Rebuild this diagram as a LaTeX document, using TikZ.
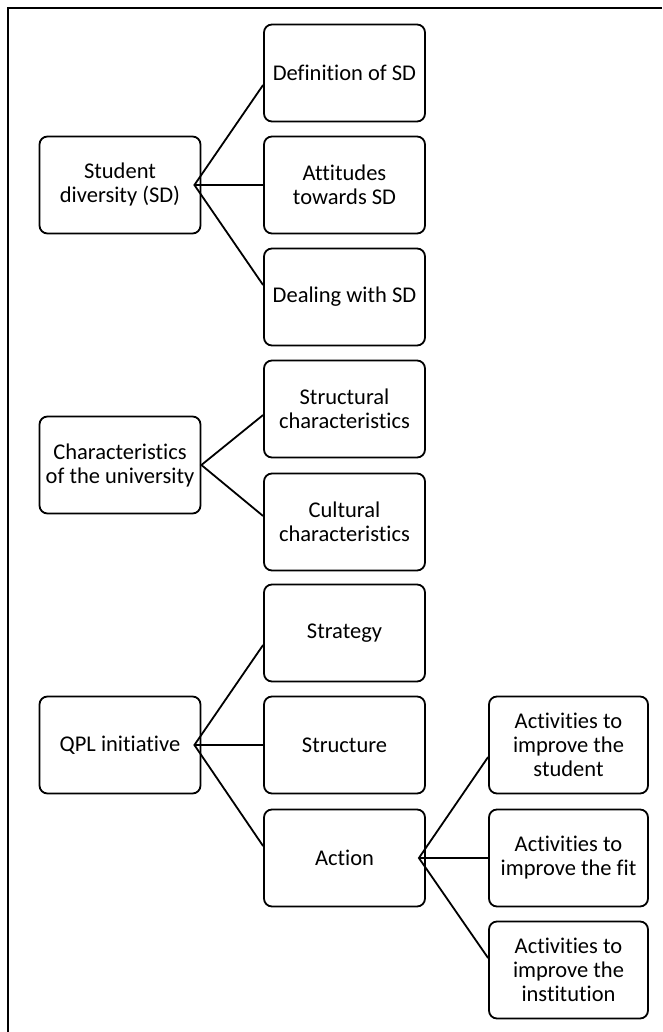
\documentclass[tikz,border=0pt]{standalone}
\usepackage{fontspec}
\setmainfont{Carlito}[Ligatures=NoCommon]
\usetikzlibrary{calc}
\begin{document}
\begin{tikzpicture}[x=1pt,y=-1pt,
  box/.style={draw, rounded corners=8pt, line width=1.8pt, minimum width=161pt,
    minimum height=97pt, align=center, inner sep=2pt,
    font=\fontsize{22.5}{24}\selectfont},
  link/.style={line width=1.8pt, line join=miter},
  frame/.style={line width=2pt}]
\useasboundingbox (0,0) rectangle (662,1032);
% outer frame
\draw[frame] (8,1032) -- (8,8) -- (662,8);

% group 1: student diversity
\node[box] (sd)   at (120,185)   {Student\\diversity (SD)};
\node[box] (def)  at (344.5,73)  {Definition of SD};
\node[box] (att)  at (344.5,185) {Attitudes\\towards SD};
\node[box] (deal) at (344.5,297) {Dealing with SD};

% group 2: characteristics of the university
\node[box] (char)   at (120,465)   {Characteristics\\of the university};
\node[box] (struct) at (344.5,409) {Structural\\characteristics};
\node[box] (cult)   at (344.5,522) {Cultural\\characteristics};

% group 3: QPL initiative
\node[box] (qpl)   at (120,745)   {QPL initiative};
\node[box] (strat) at (344.5,633) {Strategy};
\node[box] (stru)  at (344.5,745) {Structure};
\node[box] (act)   at (344.5,858) {Action};

% activities under action
\node[box, minimum width=159pt] (stud) at (568.5,745) {Activities to\\improve the\\student};
\node[box, minimum width=159pt] (fit)  at (568.5,858) {Activities to\\improve the fit};
\node[box, minimum width=159pt] (inst) at (568.5,970) {Activities to\\improve the\\institution};

% connectors
\coordinate (j1) at ($(sd.east)+(-7,0)$);
\draw[link] ($(def.west)+(0,12)$) -- (j1) -- ($(deal.west)+(0,-12)$);
\draw[link] (j1) -- (att.west);

\coordinate (j2) at (char.east);
\draw[link] ($(struct.west)+(0,6)$) -- (j2) -- ($(cult.west)+(0,-6)$);

\coordinate (j3) at ($(qpl.east)+(-7,0)$);
\draw[link] ($(strat.west)+(0,12)$) -- (j3) -- ($(act.west)+(0,-12)$);
\draw[link] (j3) -- (stru.west);

\coordinate (j4) at ($(act.east)+(-7,0)$);
\draw[link] ($(stud.west)+(0,12)$) -- (j4) -- ($(inst.west)+(0,-12)$);
\draw[link] (j4) -- (fit.west);
\end{tikzpicture}
\end{document}
